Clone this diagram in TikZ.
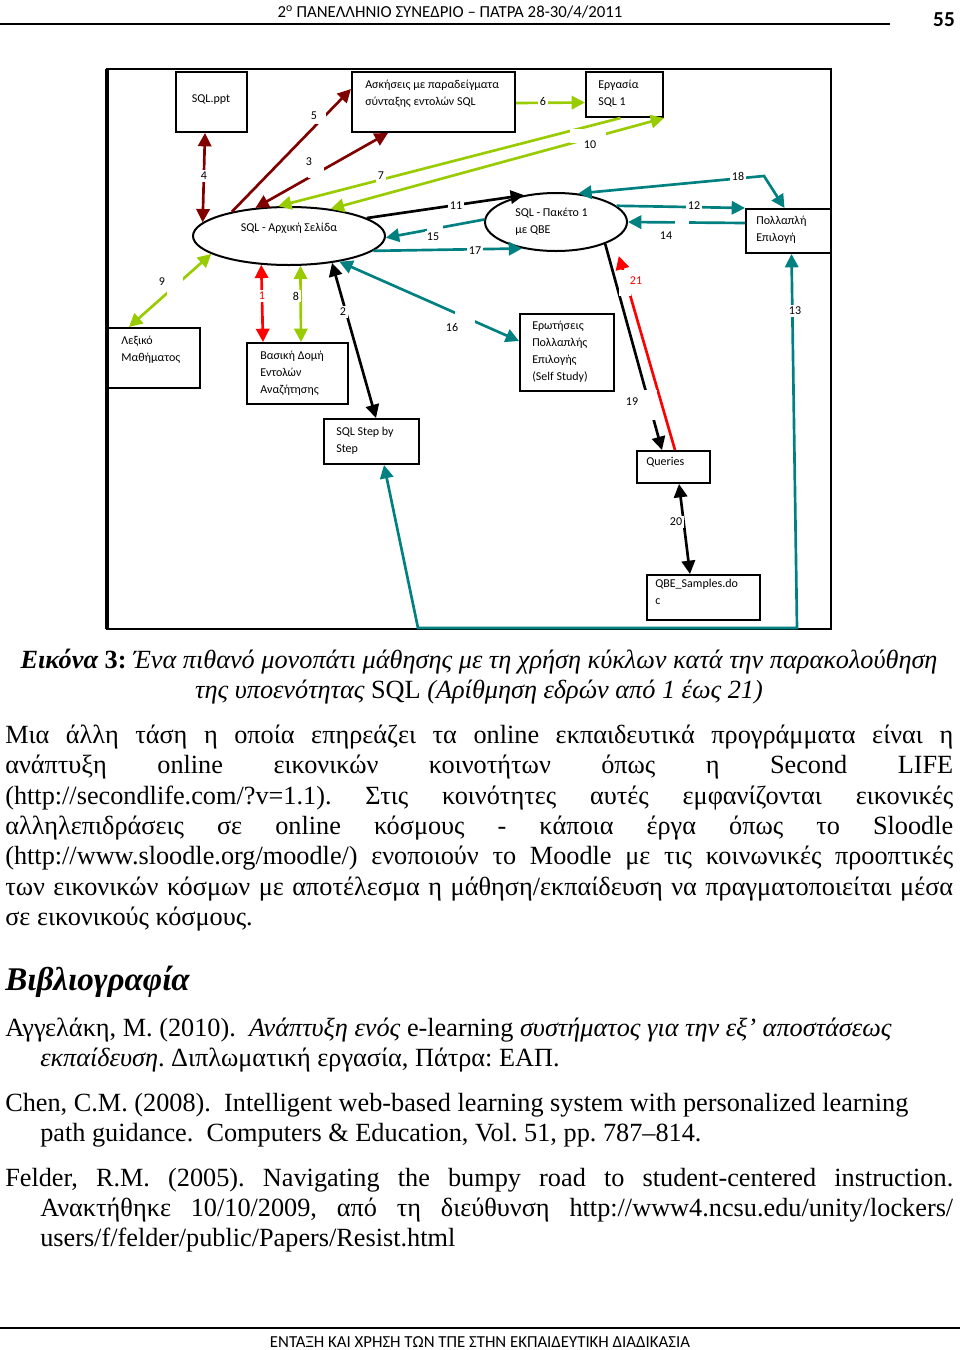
\documentclass[tikz,border=0pt]{standalone}
\usepackage{fontspec}
\setmainfont{Liberation Serif}
\newfontfamily\calib{Carlito}
\usetikzlibrary{arrows.meta,calc,shapes.geometric}
\definecolor{dred}{RGB}{128,0,0}
\definecolor{lgrn}{RGB}{153,204,0}
\definecolor{tealc}{RGB}{0,128,128}
\definecolor{redc}{RGB}{255,0,0}
\newcommand{\pxl}[1]{#1*0.75pt}
\newcommand{\dfont}{\calib\fontsize{9pt}{12.75pt}\selectfont}
\newcommand{\bfont}{\fontsize{19.7pt}{22.7pt}\selectfont}
\frenchspacing
\tikzset{
  box/.style={draw, line width=1.5pt, inner sep=0pt, anchor=north west},
  ell/.style={draw, ellipse, line width=1.5pt, inner sep=0pt},
  txt/.style={font=\dfont, align=left, inner sep=0pt, text=black},
  num/.style={font=\dfont, inner sep=1.5pt, fill=white, text=black},
  gap/.style={fill=white, inner sep=0pt, minimum width=#1},
  gap/.default=12pt,
  con/.style={line width=2pt, >={Triangle[length=10pt,width=10pt]}},
  cdr/.style={con, draw=dred},
  cgr/.style={con, draw=lgrn},
  ctl/.style={con, draw=tealc},
  cbk/.style={con, draw=black},
  crd/.style={con, draw=redc},
  para/.style={font=\bfont, inner sep=0pt, anchor=base west},
}
\begin{document}
\begin{tikzpicture}[x=0.75pt, y=-0.75pt]
\useasboundingbox (0,0) rectangle (960,1350);
% header / footer
\node[font=\calib\fontsize{12.6pt}{14pt}\selectfont, inner sep=0pt, anchor=base] (hdr) at (450,17) {2\textsuperscript{o} ΠΑΝΕΛΛΗΝΙΟ ΣΥΝΕΔΡΙΟ – ΠΑΤΡΑ 28-30/4/2011};
\node[font=\calib\bfseries\fontsize{16pt}{18pt}\selectfont, inner sep=0pt, anchor=base] (pg) at (944,26) {55};
\draw[line width=1.5pt] (0,24) -- (890,24);
\draw[line width=1.5pt] (0,1328) -- (960,1328);
\node[font=\calib\fontsize{12.6pt}{14pt}\selectfont, inner sep=0pt, anchor=base] (ftr) at (480,1347) {ΕΝΤΑΞΗ ΚΑΙ ΧΡΗΣΗ ΤΩΝ ΤΠΕ ΣΤΗΝ ΕΚΠΑΙΔΕΥΤΙΚΗ ΔΙΑΔΙΚΑΣΙΑ};
% frame
\draw[line width=1.5pt] (107,69) rectangle (831,629);
\draw[line width=2.6pt] (107,69) -- (107,629);
% boxes
\node[box, minimum width=\pxl{71}, minimum height=\pxl{60}] (ppt) at (175,71) {};
\node[box, minimum width=\pxl{163}, minimum height=\pxl{60}] (ask) at (351,71) {};
\node[box, minimum width=\pxl{77}, minimum height=\pxl{45}] (erg) at (585,71) {};
\node[box, minimum width=\pxl{85}, minimum height=\pxl{44}] (pm) at (745,208) {};
\node[box, minimum width=\pxl{92}, minimum height=\pxl{60}] (lex) at (107,327) {};
\node[box, minimum width=\pxl{101}, minimum height=\pxl{61}] (bas) at (246,342) {};
\node[box, minimum width=\pxl{95}, minimum height=\pxl{45}] (step) at (323,418) {};
\node[box, minimum width=\pxl{94}, minimum height=\pxl{77}] (erq) at (519,313) {};
\node[box, minimum width=\pxl{73}, minimum height=\pxl{32}] (que) at (636,450) {};
\node[box, minimum width=\pxl{113}, minimum height=\pxl{45}] (qbe) at (646,574) {};
\node[ell, minimum width=\pxl{192}, minimum height=\pxl{58}] (e1) at (289,236) {};
\node[ell, minimum width=\pxl{142}, minimum height=\pxl{58}] (e2) at (556,222) {};
% box texts
\node[txt] (tppt) at (211,100) {SQL.ppt};
\node[txt, anchor=west] (task) at (365,93.5) {Ασκήσεις με παραδείγματα\\σύνταξης εντολών SQL};
\node[txt, anchor=west] (terg) at (598,93.5) {Εργασία\\SQL 1};
\node[txt, anchor=west] (tpm) at (756,229.5) {Πολλαπλή\\Επιλογή};
\node[txt, anchor=west] (tlex) at (121,349.5) {Λεξικό\\Μαθήματος};
\node[txt, anchor=west] (tbas) at (260,373) {Βασική Δομή\\Εντολών\\Αναζήτησης};
\node[txt, anchor=west] (tstep) at (336,440.5) {SQL Step by\\Step};
\node[txt, anchor=west] (terq) at (532,352) {Ερωτήσεις\\Πολλαπλής\\Επιλογής\\(Self Study)};
\node[txt, anchor=west] (tque) at (646,462) {Queries};
\node[txt, anchor=west] (tqbe) at (655,591.5) {QBE\_Samples.do\\c};
\node[txt] (te1) at (289,228) {SQL - Αρχική Σελίδα};
\node[txt, anchor=west] (te2) at (515,221.5) {SQL - Πακέτο 1\\με QBE};
% connectors
\coordinate (k18) at (764,176);
\coordinate (k13a) at (797,628);
\coordinate (k13b) at (418,628);
\draw[cdr, <->] ($(ppt.south)+(-6.5,0)$) -- (e1.171);
\draw[cdr, <->] ($(ask.south)+(-45.5,0)$) -- (e1.140);
\draw[cdr, ->] (e1.157) -- ($(ask.west)+(0,-13)$);
\draw[cgr, ->] ($(erg.south)+(-4,0)$) -- (e1.110);
\draw[cgr, <->] (e1.33) -- (erg.south east);
\draw[cgr, ->] ($(ask.east)+(0,1)$) -- ($(erg.west)+(0,8)$);
\draw[cbk, ->] (e1.13) -- (e2.140);
\draw[ctl, ->] (e2.178) -- (e1.-1);
\draw[ctl, ->] (e1.-10) -- (e2.218);
\draw[ctl, <->] (e1.-27) -- ($(erq.west)+(0,-11.5)$);
\draw[crd, <->] (e1.-134) -- ($(bas.north)+(-34.5,0)$);
\draw[cgr, <->] (e1.-69) -- ($(bas.north)+(3.5,0)$);
\draw[cbk, <->] (e1.-32) -- ($(step.north)+(4.5,0)$);
\draw[cgr, <->] (e1.193) -- ($(lex.north)+(-25,0)$);
\draw[ctl, ->] (e2.15) -- (pm.north west);
\draw[ctl, ->] ($(pm.west)+(0,-8)$) -- (e2.east);
\draw[ctl, <->] (e2.52) -- (k18) -- ($(pm.north)+(-4,0)$);
\draw[ctl, <->] ($(pm.south)+(3,0)$) -- (k13a) -- (k13b) -- ($(step.south)+(12.5,0)$);
\draw[cbk, ->] (e2.-24) -- ($(que.north)+(-11.5,0)$);
\draw[crd, ->, shorten >=12.75pt] ($(que.north)+(1.5,0)$) -- (e2.-17);
\draw[cbk, <->] ($(que.south)+(5.5,0)$) -- ($(qbe.north)+(-13.5,0)$);
% gaps
\node[gap=\pxl{16}, minimum height=\pxl{16}] (g5) at (318,116) {};
\node[gap=\pxl{16}, minimum height=\pxl{16}] (g3) at (316,170) {};
\node[gap=\pxl{16}, minimum height=\pxl{12}] (g15) at (435,229) {};
\node[gap=\pxl{14}, minimum height=\pxl{10}] (g14) at (682,222) {};
\node[gap=\pxl{36}, minimum height=\pxl{14}] (g10) at (588,136) {};
\node[gap=\pxl{16}, minimum height=\pxl{20}] (g9) at (175,285) {};
\node[gap=\pxl{20}, minimum height=\pxl{14}] (g16) at (465,317) {};
\node[gap=\pxl{12}, minimum height=\pxl{26}] (g21) at (625,283) {};
\node[gap=\pxl{14}, minimum height=\pxl{30}] (g19) at (650,405) {};
% labels
\node[num] (n4) at (204,176) {4};
\node[num] (n5) at (314,116) {5};
\node[num] (n3) at (309,162) {3};
\node[num] (n7) at (381,176) {7};
\node[num] (n6) at (543,101) {6};
\node[num] (n10) at (590,145) {10};
\node[num] (n18) at (738,176) {18};
\node[num] (n11) at (456,206) {11};
\node[num] (n12) at (694,206) {12};
\node[num] (n15) at (433,237) {15};
\node[num] (n14) at (666,236) {14};
\node[num] (n17) at (475,251) {17};
\node[num] (n9) at (162,282) {9};
\node[num, text=redc] (n1) at (262,296) {1};
\node[num] (n8) at (296,296) {8};
\node[num] (n2) at (343,312) {2};
\node[num] (n16) at (452,327) {16};
\node[num, text=redc] (n21) at (636,281) {21};
\node[num] (n13) at (795,311) {13};
\node[num] (n19) at (632,402) {19};
\node[num] (n20) at (676,522) {20};
% caption
\node[font=\bfont, inner sep=0pt, anchor=base] (cap1) at (479,668) {{\bfseries\itshape Εικόνα} {\bfseries 3:} {\itshape Ένα πιθανό μονοπάτι μάθησης με τη χρήση κύκλων κατά την παρακολούθηση}};
\node[font=\bfont, inner sep=0pt, anchor=base] (cap2) at (479,698) {{\itshape της υποενότητας} SQL {\itshape (Αρίθμηση εδρών από 1 έως 21)}};
% body
\node[para] (p1) at (5,743) {\makebox[711pt][s]{Μια άλλη τάση η οποία επηρεάζει τα online εκπαιδευτικά προγράμματα είναι η}};
\node[para] (p2) at (5,773) {\makebox[711pt][s]{ανάπτυξη online εικονικών κοινοτήτων όπως η Second LIFE}};
\node[para] (p3) at (5,804) {\makebox[711pt][s]{(http://secondlife.com/?v=1.1). Στις κοινότητες αυτές εμφανίζονται εικονικές}};
\node[para] (p4) at (5,834) {\makebox[711pt][s]{αλληλεπιδράσεις σε online κόσμους - κάποια έργα όπως το Sloodle}};
\node[para] (p5) at (5,864) {\makebox[711pt][s]{(http://www.sloodle.org/moodle/) ενοποιούν το Moodle με τις κοινωνικές προοπτικές}};
\node[para] (p6) at (5,895) {\makebox[711pt][s]{των εικονικών κόσμων με αποτέλεσμα η μάθηση/εκπαίδευση να πραγματοποιείται μέσα}};
\node[para] (p7) at (5,925) {σε εικονικούς κόσμους.};
% bibliography
\node[para, font=\fontsize{24.8pt}{27pt}\selectfont\bfseries\itshape] (bib) at (5,990) {Βιβλιογραφία};
\node[para] (b1) at (5,1036) {Αγγελάκη, Μ. (2010).\ \ \textit{Ανάπτυξη ενός} e-learning \textit{συστήματος για την εξ’ αποστάσεως}};
\node[para] (b2) at (40,1066) {\textit{εκπαίδευση}. Διπλωματική εργασία, Πάτρα: ΕΑΠ.};
\node[para] (b3) at (5,1111) {Chen, C.M. (2008).\ \ Intelligent web-based learning system with personalized learning};
\node[para] (b4) at (40,1141) {path guidance.\ \ Computers \& Education, Vol. 51, pp. 787–814.};
\node[para] (b5) at (5,1186) {\makebox[711pt][s]{Felder, R.M. (2005). Navigating the bumpy road to student-centered instruction.}};
\node[para] (b6) at (40,1216) {\makebox[684.75pt][s]{Ανακτήθηκε 10/10/2009, από τη διεύθυνση http://www4.ncsu.edu/unity/lockers/}};
\node[para] (b7) at (40,1246) {users/f/felder/public/Papers/Resist.html};
\end{tikzpicture}
\end{document}
